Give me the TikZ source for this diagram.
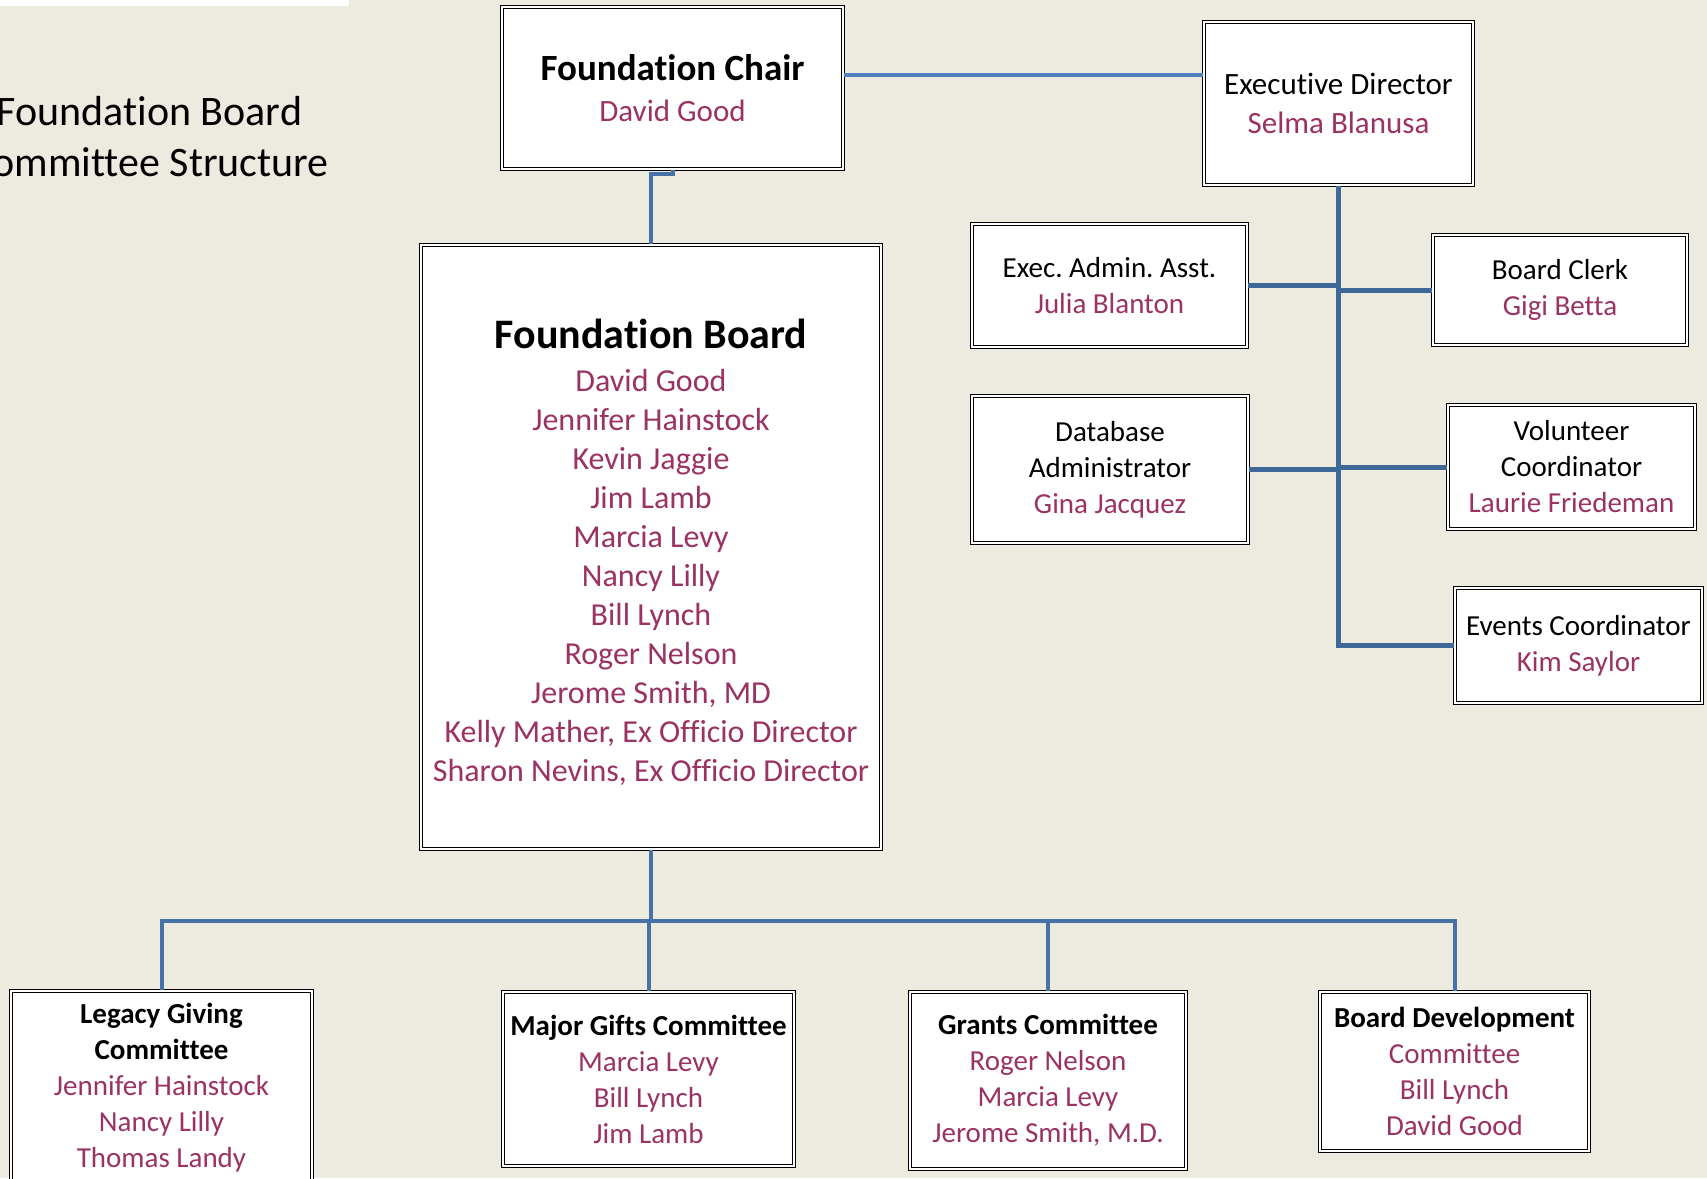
\documentclass[tikz,border=0pt]{standalone}
\usepackage{fontspec}
\setmainfont{Carlito}[Ligatures = NoCommon]
\usetikzlibrary{calc}
\definecolor{paper}{RGB}{237,235,224}
\definecolor{namered}{RGB}{155,50,100}
\definecolor{lineblue}{RGB}{70,114,168}
\definecolor{darkblue}{RGB}{62,104,152}
\definecolor{lightblue}{RGB}{79,129,189}
\newcommand{\boxhead}[1]{\textcolor{black}{#1}}
\tikzset{>=latex}
\frenchspacing

\begin{document}
\begin{tikzpicture}[x = 1pt, y = -1pt,
  orgbox/.style = {draw = black, fill = white, line width = 1.3pt, double = white, double distance = 2pt, align = center, text = namered, inner sep = 0pt},
  small/.style = {font = \fontsize{29}{36}\selectfont},
  topline/.style = {line width = 3.5pt, lightblue},
  treeline/.style = {line width = 5pt, darkblue},
  stemline/.style = {line width = 4pt, lineblue}]
\useasboundingbox (0,0) rectangle (1707,1178);
\clip (0,0) rectangle (1707,1178);
\fill[paper] (0,0) rectangle (1707,1178);
\fill[white] (0,0) rectangle (349,6);
\node[align = center, font = \fontsize{42}{51}\selectfont] (title) at (149.5,137) {Foundation Board\\Committee Structure};

\node[orgbox, minimum width = 341, minimum height = 162, font = \fontsize{31}{41}\selectfont] (chair) at (672.5,88) {\boxhead{\fontsize{37}{41}\selectfont\bfseries Foundation Chair}\\David Good};
\node[orgbox, minimum width = 269, minimum height = 163, font = \fontsize{31}{39}\selectfont] (ed) at (1338.5,103.5) {\boxhead{Executive Director}\\Selma Blanusa};
\node[orgbox, minimum width = 460, minimum height = 604, font = \fontsize{32}{39}\selectfont] (board) at (651,547) {\rule{0pt}{40pt}\boxhead{\fontsize{42}{42}\selectfont\bfseries Foundation Board}\\[4pt]David Good\\Jennifer Hainstock\\Kevin Jaggie\\Jim Lamb\\Marcia Levy\\Nancy Lilly\\Bill Lynch\\Roger Nelson\\Jerome Smith, MD\\Kelly Mather, Ex Officio Director\\Sharon Nevins, Ex Officio Director};

\node[orgbox, small, minimum width = 275, minimum height = 123] (admin) at (1109.5,285.5) {\boxhead{Exec. Admin. Asst.}\\Julia Blanton};
\node[orgbox, small, minimum width = 254, minimum height = 110] (clerk) at (1560,290) {\boxhead{Board Clerk}\\Gigi Betta};
\node[orgbox, small, minimum width = 276, minimum height = 147] (dba) at (1110,469.5) {\boxhead{Database}\\\boxhead{Administrator}\\Gina Jacquez};
\node[orgbox, small, minimum width = 247, minimum height = 124] (volunteer) at (1571.5,467) {\boxhead{Volunteer}\\\boxhead{Coordinator}\\Laurie Friedeman};
\node[orgbox, small, minimum width = 247, minimum height = 115] (events) at (1578.5,645.5) {\boxhead{Events Coordinator}\\Kim Saylor};

\node[orgbox, small, minimum width = 301, minimum height = 194] (legacy) at (161.5,1088) {\boxhead{\bfseries Legacy Giving}\\\boxhead{\bfseries Committee}\\Jennifer Hainstock\\Nancy Lilly\\Thomas Landy};
\node[orgbox, small, minimum width = 291, minimum height = 174] (gifts) at (648.5,1079) {\boxhead{\bfseries Major Gifts Committee}\\Marcia Levy\\Bill Lynch\\Jim Lamb};
\node[orgbox, small, minimum width = 276, minimum height = 177] (grants) at (1048,1080.5) {\boxhead{\bfseries Grants Committee}\\Roger Nelson\\Marcia Levy\\Jerome Smith, M.D.};
\node[orgbox, small, minimum width = 269, minimum height = 159] (devel) at (1454.5,1071.5) {\boxhead{\bfseries Board Development}\\Committee\\Bill Lynch\\David Good};

\coordinate (cl) at (0,75);
\coordinate (bus) at (0,921);
\draw[topline] (chair.east |- cl) -- (ed.west |- cl);
\draw[stemline] (chair.south) -- ++(0,4) -| (board.north);
\draw[treeline] (ed.south) |- (events.west);
\draw[treeline] (admin.east) -- (admin.east -| ed.south);
\draw[treeline] (clerk.west) -- (clerk.west -| ed.south);
\draw[treeline] (dba.east) -- (dba.east -| ed.south);
\draw[treeline] (volunteer.west) -- (volunteer.west -| ed.south);
\draw[stemline] (board.south) -- (board.south |- bus);
\draw[stemline] (legacy.north) -- (legacy.north |- bus) -- (devel.north |- bus) -- (devel.north);
\draw[stemline] (gifts.north) -- (gifts.north |- bus);
\draw[stemline] (grants.north) -- (grants.north |- bus);
\end{tikzpicture}
\end{document}
